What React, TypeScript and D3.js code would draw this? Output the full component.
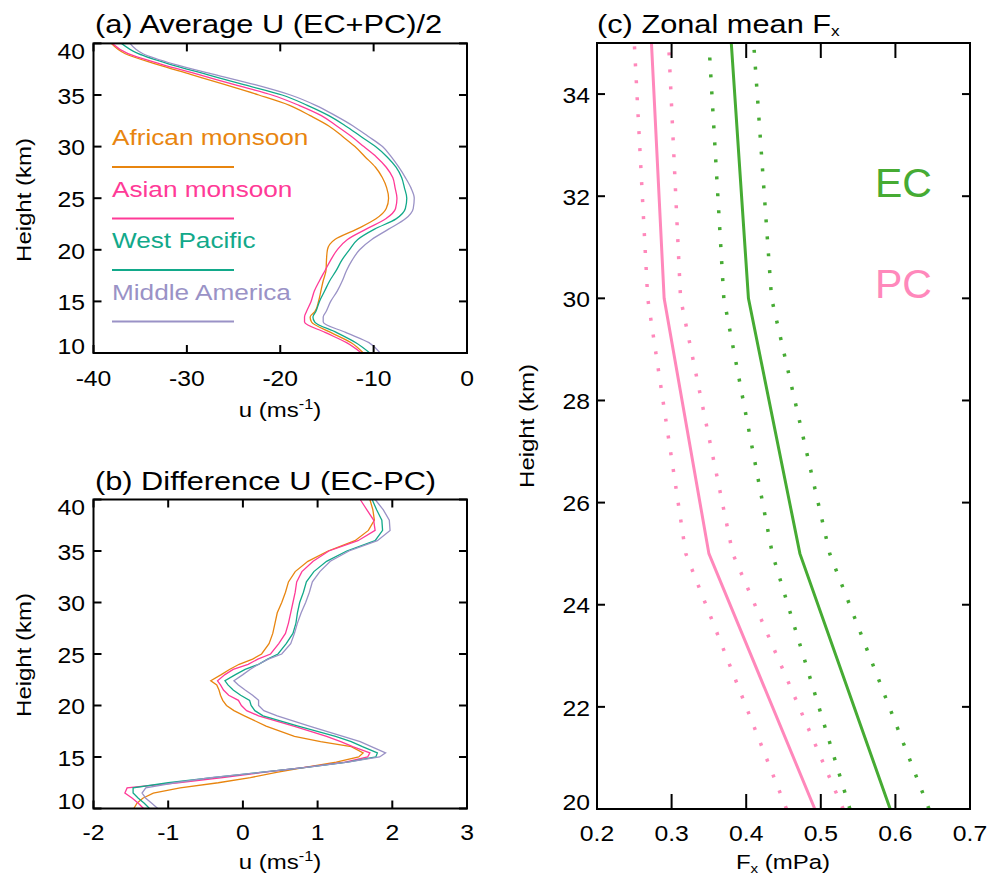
import React from 'react';
import * as d3 from 'd3';

const FONT = "'Liberation Sans', Arial, Helvetica, sans-serif";

// ---- (a) average zonal wind (EC+PC)/2, m/s, by height (km)
const heightsA = [10, 11, 12, 13, 13.5, 14, 15, 16, 17, 18, 19, 20, 21, 22, 23, 24, 25, 26, 27, 28, 29, 30, 31, 32, 33, 34, 35, 36, 37, 38, 39, 40];
const africanA = [-11.1, -12.4, -14.6, -16.65, -16.8, -16.3, -15.9, -15.65, -15.4, -15.1, -15.05, -14.95, -14.15, -11.8, -9.75, -8.65, -8.4, -8.6, -9.07, -9.8, -10.9, -12.0, -13.35, -14.8, -16.8, -19.0, -22.3, -25.9, -29.6, -33.3, -36.6, -38.1];
const asianA = [-11.3, -12.9, -15.2, -17.4, -17.4, -17.2, -16.7, -16.35, -15.8, -15.2, -14.6, -13.9, -12.8, -10.8, -8.7, -7.65, -7.5, -7.7, -7.95, -8.65, -9.7, -11.05, -12.4, -13.95, -15.6, -18.0, -20.9, -24.9, -28.8, -32.8, -36.3, -38.0];
const westPacificA = [-10.4, -11.9, -14.0, -16.3, -16.5, -16.2, -15.8, -15.25, -14.7, -14.0, -13.4, -12.6, -11.7, -9.9, -7.6, -6.6, -6.45, -6.7, -7.0, -7.6, -8.55, -9.8, -11.4, -13.0, -14.8, -17.1, -19.8, -23.9, -27.9, -31.9, -35.2, -37.0];
const middleAmericaA = [-9.3, -10.5, -13.0, -15.4, -15.4, -15.1, -14.6, -13.9, -13.35, -12.9, -12.3, -11.5, -10.2, -8.4, -6.6, -5.76, -5.65, -6.0, -6.6, -7.3, -8.1, -9.05, -10.6, -12.2, -14.1, -16.2, -18.9, -22.7, -27.1, -31.4, -34.7, -36.1];

// ---- (b) zonal wind difference EC-PC, m/s, by height (km)
const heightsB = [10, 10.5, 11, 11.5, 12, 12.5, 13, 13.5, 14, 14.5, 15, 15.4, 16, 16.5, 17, 18, 19, 19.5, 20, 20.5, 21, 21.5, 22, 22.4, 23, 23.5, 24, 24.5, 25, 26, 27, 28, 29, 30, 31, 32, 33, 34, 35, 36, 37, 38, 39, 40];
const africanB = [-1.46, -1.42, -1.34, -1.2, -0.84, -0.33, 0.1, 0.45, 0.83, 1.25, 1.55, 1.61, 1.45, 1.04, 0.69, 0.31, 0.02, -0.12, -0.22, -0.27, -0.3, -0.32, -0.35, -0.43, -0.29, -0.18, -0.05, 0.13, 0.25, 0.35, 0.4, 0.43, 0.46, 0.52, 0.57, 0.61, 0.7, 0.87, 1.14, 1.5, 1.68, 1.76, 1.74, 1.7];
const asianB = [-1.33, -1.4, -1.48, -1.58, -1.55, -0.87, -0.27, 0.27, 0.83, 1.37, 1.67, 1.7, 1.47, 1.31, 1.12, 0.68, 0.21, 0.05, -0.02, -0.06, -0.19, -0.26, -0.3, -0.34, -0.24, -0.13, 0.07, 0.2, 0.37, 0.48, 0.57, 0.61, 0.64, 0.67, 0.7, 0.72, 0.79, 0.94, 1.15, 1.54, 1.77, 1.75, 1.66, 1.57];
const westPacificB = [-1.25, -1.32, -1.4, -1.47, -1.47, -1.0, -0.41, 0.23, 0.85, 1.4, 1.78, 1.8, 1.6, 1.45, 1.24, 0.74, 0.27, 0.16, 0.11, 0.09, -0.03, -0.13, -0.2, -0.24, -0.1, 0.03, 0.21, 0.33, 0.47, 0.58, 0.67, 0.71, 0.73, 0.76, 0.81, 0.85, 0.95, 1.12, 1.39, 1.77, 1.87, 1.86, 1.79, 1.73];
const middleAmericaB = [-1.14, -1.22, -1.3, -1.35, -1.3, -0.91, -0.43, 0.23, 0.85, 1.4, 1.83, 1.91, 1.72, 1.57, 1.34, 0.89, 0.46, 0.28, 0.21, 0.21, 0.13, 0.03, -0.06, -0.12, 0.0, 0.095, 0.21, 0.34, 0.52, 0.64, 0.69, 0.73, 0.78, 0.84, 0.89, 0.93, 1.03, 1.17, 1.42, 1.8, 1.97, 1.96, 1.88, 1.77];

// ---- (c) zonal mean Fx (mPa) with bounds
const heightsC = [20, 25, 30, 35];
const ecMean = [0.593, 0.472, 0.403, 0.38];
const ecLow = [0.539, 0.435, 0.37, 0.35];
const ecHigh = [0.645, 0.512, 0.434, 0.41];
const pcMean = [0.492, 0.35, 0.29, 0.273];
const pcLow = [0.454, 0.319, 0.268, 0.25];
const pcHigh = [0.53, 0.382, 0.312, 0.296];

const regionNames = ['African monsoon', 'Asian monsoon', 'West Pacific', 'Middle America'];
const regionColors = ['#E8850F', '#FF3A97', '#12A98A', '#9A92C6'];
const seriesA = [africanA, asianA, westPacificA, middleAmericaA];
const seriesB = [africanB, asianB, westPacificB, middleAmericaB];

const ticksUA = [-40, -30, -20, -10, 0];
const ticksUB = [-2, -1, 0, 1, 2, 3];
const ticksHeightAB = [10, 15, 20, 25, 30, 35, 40];
const ticksFx = [0.2, 0.3, 0.4, 0.5, 0.6, 0.7];
const ticksHeightC = [20, 22, 24, 26, 28, 30, 32, 34];

const EC_COLOR = '#46AB33';
const PC_COLOR = '#FF88BB';

function Label({ x, y, size, sx = 1.16, anchor = 'start', rotate = 0, fill = '#000', children }: any) {
  return (
    <text
      transform={`translate(${x},${y}) rotate(${rotate}) scale(${sx},1)`}
      fontSize={size}
      fontFamily={FONT}
      textAnchor={anchor}
      fill={fill}
    >
      {children}
    </text>
  );
}

function Axes({ xs, ys, xTicks, yTicks, xLen, yLen, fmt, yLabelRight, xLabelBase, id }: any) {
  const [x0, x1] = xs.range();
  const [b, t] = ys.range();
  return (
    <g>
      {xTicks.map((v: number) => (
        <g key={`x${id}${v}`}>
          <line x1={xs(v)} x2={xs(v)} y1={b} y2={b - xLen} stroke="#000" strokeWidth={2} />
          <line x1={xs(v)} x2={xs(v)} y1={t} y2={t + xLen} stroke="#000" strokeWidth={2} />
          <Label x={xs(v)} y={xLabelBase} size={21.5} sx={1.15} anchor="middle">{fmt(v)}</Label>
        </g>
      ))}
      {yTicks.map((v: number) => {
        const base = Math.min(Math.max(ys(v) + 8.7, t + 15.8), b + 0.5);
        return (
          <g key={`y${id}${v}`}>
            <line x1={x0} x2={x0 + yLen} y1={ys(v)} y2={ys(v)} stroke="#000" strokeWidth={2} />
            <line x1={x1} x2={x1 - yLen} y1={ys(v)} y2={ys(v)} stroke="#000" strokeWidth={2} />
            <Label x={yLabelRight} y={base} size={21.5} sx={1.15} anchor="end">{String(v)}</Label>
          </g>
        );
      })}
      <rect x={x0} y={t} width={x1 - x0} height={b - t} fill="none" stroke="#000" strokeWidth={2} />
    </g>
  );
}

export default function App() {
  const xA = d3.scaleLinear().domain([-40, 0]).range([93.5, 467]);
  const yA = d3.scaleLinear().domain([10, 40]).range([353, 43.4]);
  const xB = d3.scaleLinear().domain([-2, 3]).range([93.5, 467]);
  const yB = d3.scaleLinear().domain([10, 40]).range([808.5, 499.5]);
  const xC = d3.scaleLinear().domain([0.2, 0.7]).range([597, 970]);
  const yC = d3.scaleLinear().domain([20, 35]).range([809, 43]);

  const profile = (xs: any, ys: any, hs: number[], curve: any) =>
    d3.line<number>().x((_, i) => xs(_)).y((_, i) => ys(hs[i])).curve(curve);

  const pathA = (vals: number[]) =>
    d3.line<number>().x((v) => xA(v)).y((_, i) => yA(heightsA[i])).curve(d3.curveMonotoneY)(vals) || '';
  const pathB = (vals: number[]) =>
    d3.line<number>().x((v) => xB(v)).y((_, i) => yB(heightsB[i]))(vals) || '';
  const pathC = (vals: number[]) =>
    d3.line<number>().x((v) => xC(v)).y((_, i) => yC(heightsC[i]))(vals) || '';
  void profile;

  const fmtInt = (v: number) => String(v);
  const fmtOne = (v: number) => v.toFixed(1);

  return (
    <svg width={1000} height={886} style={{ position: 'absolute', left: 0, top: 0, background: '#fff' }}>
      <defs>
        <clipPath id="clipA"><rect x={93.5} y={43.4} width={373.5} height={309.6} /></clipPath>
        <clipPath id="clipB"><rect x={93.5} y={499.5} width={373.5} height={309} /></clipPath>
        <clipPath id="clipC"><rect x={597} y={43} width={373} height={766} /></clipPath>
      </defs>
      <rect x={0} y={0} width={1000} height={886} fill="#fff" />

      {/* (a) average U */}
      <g clipPath="url(#clipA)">
        {seriesA.map((s, i) => (
          <path key={`a${i}`} d={pathA(s)} fill="none" stroke={regionColors[i]} strokeWidth={1.3} />
        ))}
      </g>
      {regionNames.map((name, i) => (
        <g key={`leg${i}`}>
          <Label x={112} y={145 + i * 51.5} size={22} sx={1.19} fill={regionColors[i]}>{name}</Label>
          <line x1={112} x2={234} y1={167 + i * 51.5} y2={167 + i * 51.5} stroke={regionColors[i]} strokeWidth={2} />
        </g>
      ))}
      <Axes xs={xA} ys={yA} xTicks={ticksUA} yTicks={ticksHeightAB} xLen={8} yLen={8} fmt={fmtInt} yLabelRight={85} xLabelBase={386} id="a" />
      <Label x={95} y={33} size={25} sx={1.23}>(a) Average U (EC+PC)/2</Label>
      <Label x={280} y={417} size={20.5} sx={1.17} anchor="middle">
        u (ms<tspan fontSize={14} dy={-8}>-1</tspan><tspan dy={8}>)</tspan>
      </Label>
      <Label x={31} y={200} size={20.5} sx={1.17} anchor="middle" rotate={-90}>Height (km)</Label>

      {/* (b) difference U */}
      <g clipPath="url(#clipB)">
        {seriesB.map((s, i) => (
          <path key={`b${i}`} d={pathB(s)} fill="none" stroke={regionColors[i]} strokeWidth={1.3} />
        ))}
      </g>
      <Axes xs={xB} ys={yB} xTicks={ticksUB} yTicks={ticksHeightAB} xLen={8} yLen={8} fmt={fmtInt} yLabelRight={85} xLabelBase={840} id="b" />
      <Label x={95} y={490} size={25} sx={1.23}>(b) Difference U (EC-PC)</Label>
      <Label x={280} y={869} size={20.5} sx={1.17} anchor="middle">
        u (ms<tspan fontSize={14} dy={-8}>-1</tspan><tspan dy={8}>)</tspan>
      </Label>
      <Label x={31} y={655} size={20.5} sx={1.17} anchor="middle" rotate={-90}>Height (km)</Label>

      {/* (c) zonal mean Fx */}
      <g clipPath="url(#clipC)">
        {[pcLow, pcHigh].map((s, i) => (
          <path key={`pcd${i}`} d={pathC(s)} fill="none" stroke={PC_COLOR} strokeWidth={3.5} strokeDasharray="3 14" />
        ))}
        {[ecLow, ecHigh].map((s, i) => (
          <path key={`ecd${i}`} d={pathC(s)} fill="none" stroke={EC_COLOR} strokeWidth={3.5} strokeDasharray="3 14" />
        ))}
        <path d={pathC(pcMean)} fill="none" stroke={PC_COLOR} strokeWidth={3} />
        <path d={pathC(ecMean)} fill="none" stroke={EC_COLOR} strokeWidth={3} />
      </g>
      <Axes xs={xC} ys={yC} xTicks={ticksFx} yTicks={ticksHeightC} xLen={15} yLen={8} fmt={fmtOne} yLabelRight={590} xLabelBase={840.5} id="c" />
      <Label x={875} y={197} size={41} sx={1.0} fill={EC_COLOR}>EC</Label>
      <Label x={875} y={298} size={41} sx={1.0} fill={PC_COLOR}>PC</Label>
      <Label x={597} y={33} size={25} sx={1.23}>
        (c) Zonal mean F<tspan fontSize={14} dy={3}>x</tspan>
      </Label>
      <Label x={783} y={869} size={20.5} sx={1.17} anchor="middle">
        F<tspan fontSize={13} dy={4}>x</tspan><tspan dy={-4}> (mPa)</tspan>
      </Label>
      <Label x={534} y={426} size={20.5} sx={1.17} anchor="middle" rotate={-90}>Height (km)</Label>
    </svg>
  );
}
